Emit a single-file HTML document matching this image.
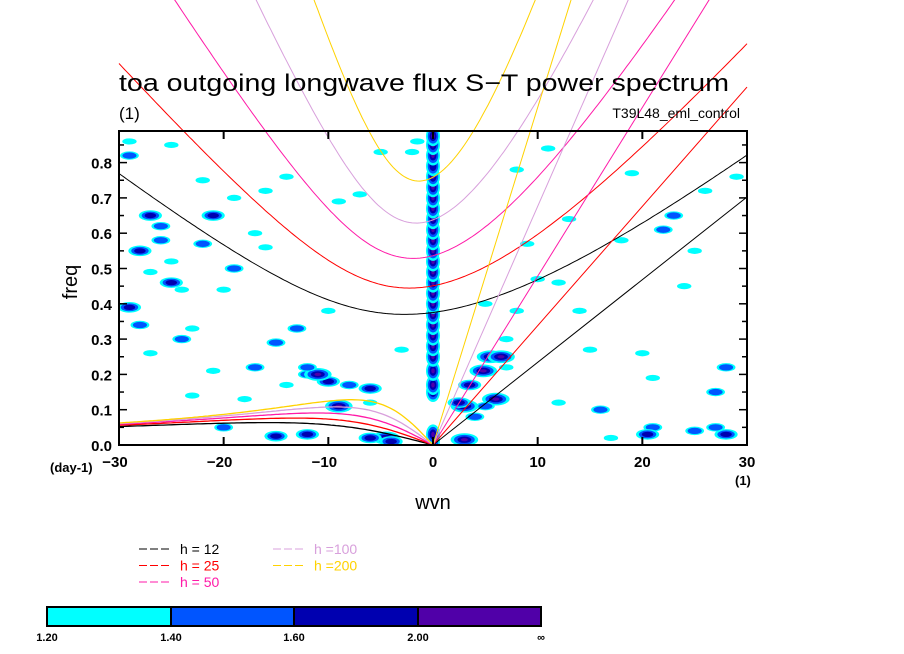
<!DOCTYPE html>
<html><head><meta charset="utf-8"><style>
body{margin:0;background:#fff;}
svg{display:block;font-family:"Liberation Sans",sans-serif;}
</style></head><body>
<svg id="chart" width="904" height="654" viewBox="0 0 904 654" xmlns="http://www.w3.org/2000/svg">
<defs><clipPath id="plotclip"><rect x="119" y="131" width="628" height="314"/></clipPath></defs>
<rect width="904" height="654" fill="#fff"/>
<g id="blobs" clip-path="url(#plotclip)"></g>
<g id="curves"></g>
<rect x="119" y="131" width="628" height="314" fill="none" stroke="#000" stroke-width="2"/>
<g id="axes"></g>
<text x="119" y="91" font-size="24" textLength="610" lengthAdjust="spacingAndGlyphs">toa outgoing longwave flux S−T power spectrum</text>
<text x="119" y="119" font-size="17">(1)</text>
<text x="740" y="118" font-size="14" text-anchor="end">T39L48_eml_control</text>
<text x="0" y="0" font-size="20" transform="translate(77,282) rotate(-90)" text-anchor="middle">freq</text>
<text x="433" y="509" font-size="20" text-anchor="middle">wvn</text>
<text x="50" y="472" font-size="13" font-weight="bold">(day-1)</text>
<text x="735" y="485" font-size="13" font-weight="bold">(1)</text>
<g id="legend"></g>
<g id="colorbar"></g>
</svg>
<script>
const NS="http://www.w3.org/2000/svg";
const xTicks=[-30,-20,-10,0,10,20,30];
const yTicks=[0.0,0.1,0.2,0.3,0.4,0.5,0.6,0.7,0.8];
const depths=[12,25,50,100,200];
const depthColors=["#000000","#ff0000","#ff1aa8","#d8a0dc","#ffd200"];
const levelValues=["1.20","1.40","1.60","2.00","∞"];
const levelColors=["#00ffff","#0055ff","#0000b0","#5000a8"];
// wave-0 column: freq and level
const colFreq=[0.01,0.03,0.15,0.17,0.21,0.25,0.28,0.31,0.34,0.37,0.40,0.43,0.46,0.49,0.52,0.55,0.58,0.61,0.64,0.67,0.70,0.73,0.76,0.79,0.82,0.85,0.875];
const colLevel=[4,4,3,4,4,4,4,4,4,4,4,4,4,4,4,4,4,4,4,4,4,4,4,3,4,4,4];
// scattered blobs: wavenumber, frequency, level
const blobW=[-29,-28,-27,-26,-25,-21,-22,-19,-25,-24,-27,-21,-17,-15,-14,-12,-10,-11,-12,-8,-9,-6,-4.5,-6,-4,-12,-15,-20,-23,-18,-28,-27,-24,-20,-16,-13,-29,-26,-10,-6,-3,5.5,6.5,4.8,3.5,3,2.5,6,3,5,4,7,8,5,21,20.5,27,28,25,17,12,14,18,23,26,29,15,22,19,9,11,13,24,27,16,21,-2,-7,-17,-22,-5,-9,-14,-19,-25,8,10,25,28,20,12,7,-1.5,-29,-23,-16];
const blobF=[0.39,0.55,0.65,0.58,0.46,0.65,0.57,0.5,0.52,0.3,0.26,0.21,0.22,0.29,0.17,0.2,0.18,0.2,0.22,0.17,0.11,0.16,0.02,0.02,0.01,0.03,0.025,0.05,0.14,0.13,0.34,0.49,0.44,0.44,0.56,0.33,0.82,0.62,0.38,0.12,0.27,0.25,0.25,0.21,0.17,0.11,0.12,0.13,0.015,0.11,0.08,0.3,0.38,0.4,0.05,0.03,0.05,0.03,0.04,0.02,0.12,0.38,0.58,0.65,0.72,0.76,0.27,0.61,0.77,0.57,0.84,0.64,0.45,0.15,0.1,0.19,0.83,0.71,0.6,0.75,0.83,0.69,0.76,0.7,0.85,0.78,0.47,0.55,0.22,0.26,0.46,0.22,0.86,0.86,0.33,0.72,0.41];
const blobL=[3,3,3,2,3,3,2,2,1,2,1,1,2,2,1,2,3,4,2,2,4,3,4,3,3,3,3,2,1,1,2,1,1,1,1,2,2,2,1,1,1,4,4,4,3,4,3,4,4,2,2,1,1,1,2,3,2,3,2,1,1,1,1,2,1,1,1,2,1,1,1,1,1,2,2,1,1,1,1,1,1,1,1,1,1,1,1,1,2,1,1,1,1,1,1,1,1];
const g=9.81,beta=2.29e-11,a=6.371e6;
function sx(w){return 433+w*10.467;}
function sy(f){return 445-f*353;}
function mk(tag,attrs,parent){const e=document.createElementNS(NS,tag);for(const k in attrs)e.setAttribute(k,attrs[k]);parent.appendChild(e);return e;}
const blobs=document.getElementById('blobs');
function drawBlob(w,f,lvl,rx,ry){
  for(let l=1;l<=lvl;l++){
    const s=1-(l-1)*0.25;
    const e=mk('ellipse',{cx:sx(w),cy:sy(f),rx:rx*s,ry:ry*s,fill:levelColors[l-1]},blobs);
    
    
  }
}
for(let i=0;i<colFreq.length;i++){drawBlob(0,colFreq[i],colLevel[i],7,10);}
for(let i=0;i<blobW.length;i++){const l=blobL[i];drawBlob(blobW[i],blobF[i],l,5+l*2.2,2+l*1.1);}
// dispersion curves
const curves=document.getElementById('curves');
function roots(k,c,n){
  const p=-(c*c*k*k+(2*n+1)*beta*c),q=-beta*k*c*c;
  const r=2*Math.sqrt(-p/3);
  let arg=(3*q/(2*p))*Math.sqrt(-3/p);arg=Math.max(-1,Math.min(1,arg));
  const t=Math.acos(arg)/3;
  return [0,1,2].map(m=>r*Math.cos(t-2*Math.PI*m/3));
}
const toCpd=w=>w*86400/(2*Math.PI);
depths.forEach((h,i)=>{
  const c=Math.sqrt(g*h),col=depthColors[i];
  let ig=[],er=[];
  for(let s=-30;s<=30.001;s+=0.25){
    const k=s/a, rt=roots(k,c,1);
    ig.push(sx(s).toFixed(1)+','+sy(toCpd(Math.max(...rt))).toFixed(1));
    if(s<=0){const pos=rt.filter(v=>v>0);er.push(sx(s).toFixed(1)+','+sy(toCpd(Math.min(...pos))).toFixed(1));}
  }
  let p=mk('polyline',{points:ig.join(' '),fill:'none',stroke:col,'stroke-width':1},curves);
  
  p=mk('polyline',{points:er.join(' '),fill:'none',stroke:col,'stroke-width':1.3},curves);
  
  const kf=toCpd(c*30/a);
  p=mk('line',{x1:sx(0),y1:sy(0),x2:sx(30),y2:sy(kf),stroke:col,'stroke-width':1},curves);
  
});
// axes
const axes=document.getElementById('axes');
xTicks.forEach(v=>{
  mk('line',{x1:sx(v),x2:sx(v),y1:445,y2:437,stroke:'#000','stroke-width':2},axes);
  mk('line',{x1:sx(v),x2:sx(v),y1:131,y2:139,stroke:'#000','stroke-width':2},axes);
  const t=mk('text',{x:sx(v)-(v<0?4:0),y:467,'font-size':15,'font-weight':'bold','text-anchor':'middle'},axes);
  t.textContent=v<0?'−'+Math.abs(v):String(v);
  
});
for(let f=0;f<=0.881;f+=0.05){
  const len=Math.round(f*100)%10===0?8:5;
  mk('line',{x1:119,x2:119+len,y1:sy(f),y2:sy(f),stroke:'#000','stroke-width':1.5},axes);
  mk('line',{x1:747,x2:747-len,y1:sy(f),y2:sy(f),stroke:'#000','stroke-width':1.5},axes);
}
yTicks.forEach(v=>{
  const t=mk('text',{x:112,y:sy(v)+6,'font-size':15,'font-weight':'bold','text-anchor':'end'},axes);
  t.textContent=v.toFixed(1);
  
});
// legend
const lg=document.getElementById('legend');
depths.forEach((h,i)=>{
  const col=i<3?0:1,row=i<3?i:i-3;
  const x=139+col*134,y=549+row*16.5;
  const l=mk('line',{x1:x,x2:x+31,y1:y,y2:y,stroke:depthColors[i],'stroke-dasharray':'8,3','stroke-width':1},lg);
  
  const t=mk('text',{x:x+41,y:y+5,'font-size':14,fill:i===0?'#000':depthColors[i]},lg);
  t.textContent=h<100?'h = '+h:'h ='+h;
  
});
// colorbar
const cb=document.getElementById('colorbar');
const cbx=[47,171,294,418,541];
levelColors.forEach((c,i)=>{
  const r=mk('rect',{x:cbx[i],y:607,width:cbx[i+1]-cbx[i],height:19,fill:c,stroke:'#000','stroke-width':2},cb);
  
});
levelValues.forEach((v,i)=>{
  const t=mk('text',{x:cbx[i],y:641,'font-size':11,'font-weight':'bold','text-anchor':'middle'},cb);
  t.textContent=v;
  
});
</script>
</body></html>
